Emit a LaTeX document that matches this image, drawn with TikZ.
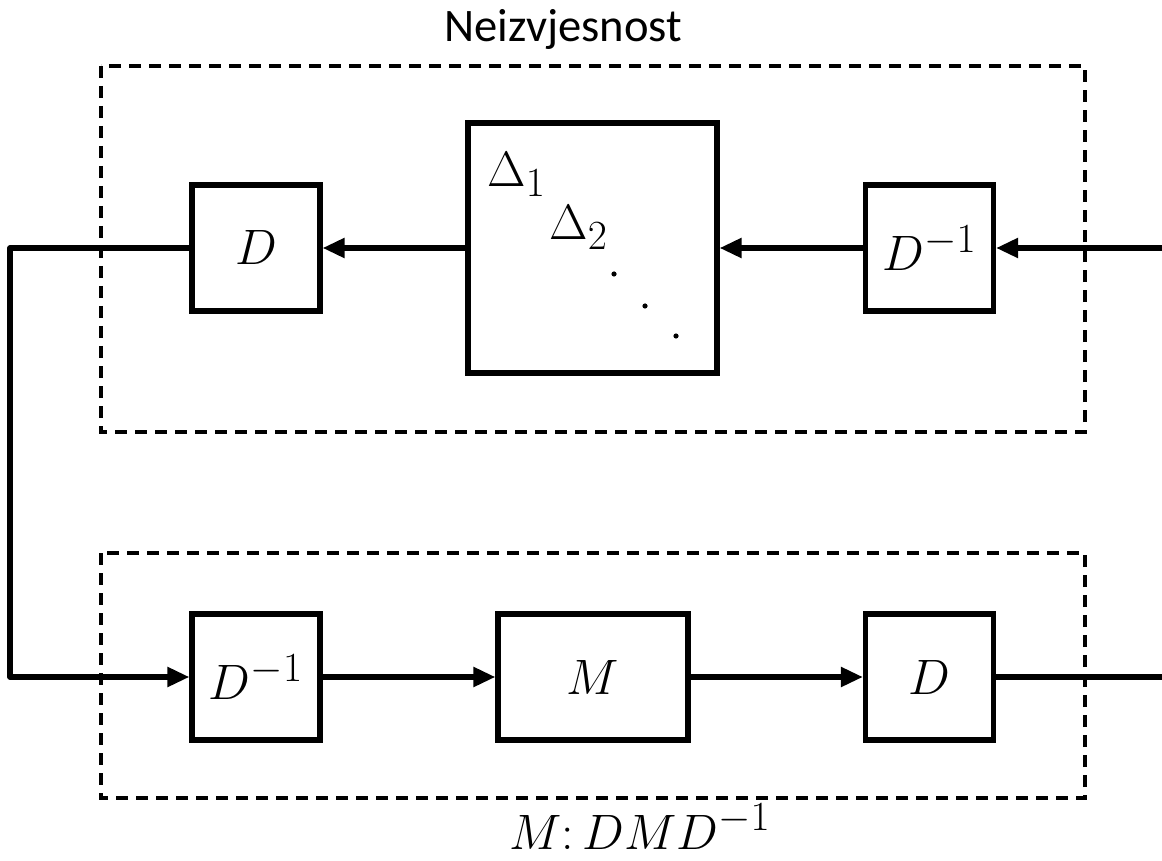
\documentclass[tikz,border=0pt]{standalone}
\usepackage{fontspec}
\newfontfamily\labelfont{Carlito}
\usetikzlibrary{arrows.meta}
\begin{document}
\begin{tikzpicture}[x=0.5pt,y=-0.5pt,
  mathfont/.style={font=\fontsize{29}{34}\selectfont},
  block/.style={draw,line width=2.6pt,minimum width=64pt,minimum height=63pt,
    inner sep=0pt,mathfont},
  wire/.style={line width=2.6pt},
  flow/.style={wire,-{Triangle[length=11pt,width=9.5pt]}},
  group/.style={draw,line width=2pt,dash pattern=on 6pt off 4pt}]
\useasboundingbox (0,0) rectangle (1162,861);

% uncertainty group (upper feedback path)
\draw[group] (101,66) rectangle (1085,432);
\node[font=\labelfont\fontsize{23.3}{28}\selectfont] (title) at (563,29) {Neizvjesnost};

\node[block] (Dtop) at (256,248) {$D$};
\node[block,minimum width=124.5pt,minimum height=125pt] (Delta) at (592.5,248) {};
\node[block] (Dinvtop) at (929.5,248) {$D^{-1}$};

\node[anchor=base west,inner sep=0pt,mathfont] (d1) at (487,187) {$\Delta_1$};
\node[anchor=base west,inner sep=0pt,mathfont] (d2) at (549,240) {$\Delta_2$};
\fill (614,274) circle (1.3pt) (645,306) circle (1.3pt) (676,336) circle (1.3pt);

% scaled plant (lower path)
\draw[group] (101,553) rectangle (1085,798);
\node[block] (Dinvbot) at (256,677) {$D^{-1}$};
\node[block,minimum width=95pt] (M) at (593,677) {$M$};
\node[block] (Dbot) at (929.5,677) {$D$};
\node[mathfont,anchor=base,inner sep=0pt] (scaling) at (640,849) {$M\colon DMD^{-1}$};

\coordinate (inR) at (1162,248);
\coordinate (outR) at (1162,677);
\coordinate (cTop) at (10,248);
\coordinate (cBot) at (10,677);

\draw[flow] (inR) -- (Dinvtop);
\draw[flow] (Dinvtop) -- (Delta);
\draw[flow] (Delta) -- (Dtop);
\draw[flow,line join=round] (Dtop.west) -- (cTop) -- (cBot) -- (Dinvbot.west);
\draw[flow] (Dinvbot) -- (M);
\draw[flow] (M) -- (Dbot);
\draw[wire] (Dbot) -- (outR);
\end{tikzpicture}
\end{document}
